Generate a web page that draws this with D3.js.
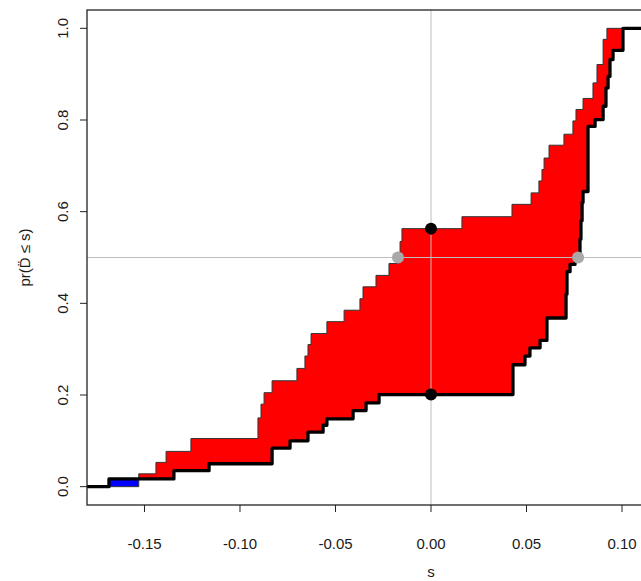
<!DOCTYPE html>
<html>
<head>
<meta charset="utf-8">
<script src="https://cdn.jsdelivr.net/npm/d3@7"></script>
<style>
  body { margin: 0; background: #fff; }
  text { font-family: "Liberation Sans", Arial, sans-serif; fill: #1a1a1a; }
</style>
</head>
<body>
<script>
// step positions (s) and cumulative values of the two curves
var upperS = [-0.153, -0.144, -0.1387, -0.1257, -0.0906, -0.0890, -0.0874, -0.0832, -0.0702, -0.066, -0.0644,
  -0.0628, -0.0545, -0.0455, -0.0372, -0.0356, -0.0288, -0.0220, -0.0173, -0.0162, -0.0152, 0.0162, 0.0424,
  0.0524, 0.0565, 0.0581, 0.0592, 0.0618, 0.0696, 0.0743, 0.0759, 0.0796, 0.0848, 0.0869, 0.0901, 0.0921];
var upperP = [0.028, 0.053, 0.077, 0.105, 0.15, 0.18, 0.205, 0.231, 0.258, 0.285, 0.31,
  0.334, 0.36, 0.385, 0.41, 0.436, 0.461, 0.487, 0.5, 0.535, 0.563, 0.589, 0.616,
  0.641, 0.667, 0.692, 0.717, 0.745, 0.769, 0.798, 0.823, 0.847, 0.881, 0.921, 0.976, 1.0];

var lowerS = [-0.1686, -0.1346, -0.1162, -0.0832, -0.0738, -0.0644, -0.0565, -0.0545, -0.0408, -0.0340, -0.0272,
  0.0429, 0.0492, 0.0518, 0.0571, 0.0607, 0.0707, 0.0712, 0.0728, 0.0754, 0.0770, 0.0780, 0.0785, 0.0791, 0.0796,
  0.0822, 0.0859, 0.0901, 0.0916, 0.0927, 0.0937, 0.0953, 0.1005];
var lowerP = [0.017, 0.035, 0.050, 0.084, 0.100, 0.119, 0.134, 0.148, 0.166, 0.183, 0.201,
  0.266, 0.285, 0.303, 0.319, 0.368, 0.42, 0.469, 0.485, 0.493, 0.5, 0.54, 0.58, 0.62, 0.644,
  0.786, 0.801, 0.83, 0.87, 0.895, 0.932, 0.952, 1.0];

var xTicks = [-0.15, -0.10, -0.05, 0.00, 0.05, 0.10];
var yTicks = [0.0, 0.2, 0.4, 0.6, 0.8, 1.0];

var width = 641,
    height = 581;
var pLeft = 87, pRight = 775, pTop = 10, pBottom = 505;

var x = d3.scaleLinear().domain([-0.1801, 0.1801]).range([pLeft, pRight]);
var y = d3.scaleLinear().domain([-0.04, 1.04]).range([pBottom, pTop]);

var svg = d3.select("body").append("svg")
    .attr("width", width)
    .attr("height", height);

svg.append("clipPath").attr("id", "plot")
  .append("rect")
    .attr("x", pLeft).attr("y", pTop)
    .attr("width", pRight - pLeft).attr("height", pBottom - pTop);

// value of a step function at s
function stepAt(S, P, s) {
  var v = 0;
  for (var i = 0; i < S.length; i++) {
    if (S[i] <= s) v = P[i];
  }
  return v;
}
function quantile(S, P, p) {
  for (var i = 0; i < P.length; i++) {
    if (P[i] >= p) return S[i];
  }
}

var x0 = x.domain()[0], x1 = x.domain()[1];
var grid = [x0].concat(upperS, lowerS, [x1]).sort(d3.ascending);
var merged = grid.map(function(s) {
  return { s: s, a: stepAt(upperS, upperP, s), b: stepAt(lowerS, lowerP, s) };
});

var g = svg.append("g").attr("clip-path", "url(#plot)");

var redArea = d3.area()
    .curve(d3.curveStepAfter)
    .x(function(d) { return x(d.s); })
    .y0(function(d) { return y(d.b); })
    .y1(function(d) { return y(Math.max(d.a, d.b)); });
var blueArea = d3.area()
    .curve(d3.curveStepAfter)
    .x(function(d) { return x(d.s); })
    .y0(function(d) { return y(d.a); })
    .y1(function(d) { return y(Math.max(d.a, d.b)); });

g.append("path").datum(merged).attr("d", redArea).attr("fill", "#ff0000");
g.append("path").datum(merged).attr("d", blueArea).attr("fill", "#0000ff");

// reference lines
g.append("line")
    .attr("x1", x(0)).attr("x2", x(0)).attr("y1", pTop).attr("y2", pBottom)
    .attr("stroke", "#bebebe").attr("stroke-width", 1);
g.append("line")
    .attr("x1", pLeft).attr("x2", pRight).attr("y1", y(0.5)).attr("y2", y(0.5))
    .attr("stroke", "#bebebe").attr("stroke-width", 1);

var line = d3.line()
    .curve(d3.curveStepAfter)
    .x(function(d) { return x(d[0]); })
    .y(function(d) { return y(d[1]); });

function pts(S, P) {
  var out = [[x0, 0]];
  for (var i = 0; i < S.length; i++) out.push([S[i], P[i]]);
  out.push([x1, P[P.length - 1]]);
  return out;
}

g.append("path").datum(pts(upperS, upperP))
    .attr("d", line).attr("fill", "none")
    .attr("stroke", "#333").attr("stroke-width", 1);
g.append("path").datum(pts(lowerS, lowerP))
    .attr("d", line).attr("fill", "none")
    .attr("stroke", "#000").attr("stroke-width", 3.3)
    .attr("stroke-linejoin", "round").attr("stroke-linecap", "round");

// medians and values at zero
var grayPts = [[quantile(upperS, upperP, 0.5), 0.5], [quantile(lowerS, lowerP, 0.5), 0.5]];
var blackPts = [[0, stepAt(upperS, upperP, 0)], [0, stepAt(lowerS, lowerP, 0)]];

g.selectAll("circle.gray")
    .data(grayPts)
  .enter().append("circle")
    .attr("class", "gray")
    .attr("cx", function(d) { return x(d[0]); })
    .attr("cy", function(d) { return y(d[1]); })
    .attr("r", 6)
    .attr("fill", "#a9a9a9");
g.selectAll("circle.black")
    .data(blackPts)
  .enter().append("circle")
    .attr("class", "black")
    .attr("cx", function(d) { return x(d[0]); })
    .attr("cy", function(d) { return y(d[1]); })
    .attr("r", 6)
    .attr("fill", "#000");

// box
svg.append("rect")
    .attr("x", pLeft).attr("y", pTop)
    .attr("width", pRight - pLeft).attr("height", pBottom - pTop)
    .attr("fill", "none").attr("stroke", "#222").attr("stroke-width", 1.3);

// axes, R style
svg.selectAll("line.xt")
    .data(xTicks)
  .enter().append("line")
    .attr("x1", function(d) { return x(d); }).attr("x2", function(d) { return x(d); })
    .attr("y1", pBottom).attr("y2", pBottom + 7)
    .attr("stroke", "#222");
svg.selectAll("text.xt")
    .data(xTicks)
  .enter().append("text")
    .attr("x", function(d) { return x(d); })
    .attr("y", 549)
    .attr("text-anchor", "middle")
    .style("font-size", "15px")
    .text(function(d) { return d3.format(".2f")(d).replace("−", "-"); });

svg.selectAll("line.yt")
    .data(yTicks)
  .enter().append("line")
    .attr("x1", pLeft - 7).attr("x2", pLeft)
    .attr("y1", function(d) { return y(d); }).attr("y2", function(d) { return y(d); })
    .attr("stroke", "#222");
svg.selectAll("text.yt")
    .data(yTicks)
  .enter().append("text")
    .attr("transform", function(d) { return "translate(68," + y(d) + ") rotate(-90)"; })
    .attr("text-anchor", "middle")
    .style("font-size", "15px")
    .text(function(d) { return d3.format(".1f")(d); });

svg.append("text")
    .attr("x", x(0)).attr("y", 577)
    .attr("text-anchor", "middle")
    .style("font-size", "15px")
    .text("s");
svg.append("text")
    .attr("transform", "translate(30," + (pTop + pBottom) / 2 + ") rotate(-90)")
    .attr("text-anchor", "middle")
    .style("font-size", "15px")
    .text("pr(D\u0308 \u2264 s)");
</script>
</body>
</html>
